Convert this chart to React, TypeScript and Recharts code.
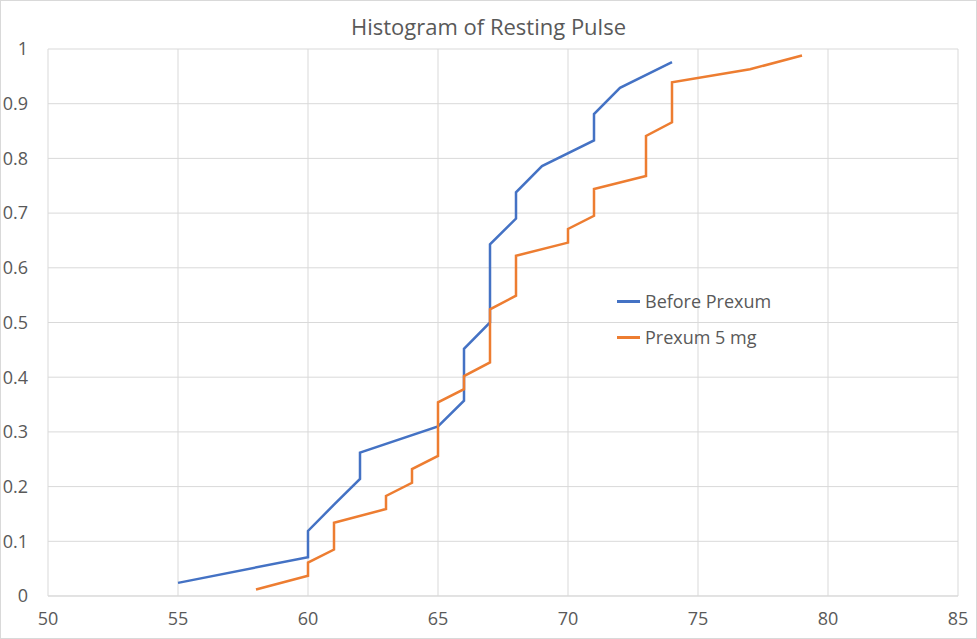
import React from 'react';
import { LineChart, Line, XAxis, YAxis, CartesianGrid, Legend } from 'recharts';

// sorted resting pulse readings and their cumulative fraction
const beforePulse = [55, 60, 60, 61, 62, 62, 65, 66, 66, 66, 67, 67, 67, 67, 68, 68, 69, 71, 71, 72, 74];
const beforeFraction = [
  0.024, 0.071, 0.119, 0.167, 0.214, 0.262, 0.31, 0.357, 0.405, 0.452, 0.5,
  0.548, 0.595, 0.643, 0.69, 0.738, 0.786, 0.833, 0.881, 0.929, 0.976,
];

const afterPulse = [
  58, 60, 60, 61, 61, 61, 63, 63, 64, 64, 65, 65, 65, 65, 65, 66, 66, 67, 67, 67, 67,
  67, 68, 68, 68, 68, 70, 70, 71, 71, 71, 73, 73, 73, 73, 74, 74, 74, 74, 77, 79,
];
const afterFraction = [
  0.012, 0.037, 0.061, 0.085, 0.11, 0.134, 0.159, 0.183, 0.207, 0.232, 0.256,
  0.28, 0.305, 0.329, 0.354, 0.378, 0.402, 0.427, 0.451, 0.476, 0.5, 0.524,
  0.549, 0.573, 0.598, 0.622, 0.646, 0.671, 0.695, 0.72, 0.744, 0.768, 0.793,
  0.817, 0.841, 0.866, 0.89, 0.915, 0.939, 0.963, 0.988,
];

const xTicks = [50, 55, 60, 65, 70, 75, 80, 85];
const yTicks = [0, 0.1, 0.2, 0.3, 0.4, 0.5, 0.6, 0.7, 0.8, 0.9, 1];

const seriesNames = ['Before Prexum', 'Prexum 5 mg'];
const seriesColors = ['#4472C4', '#ED7D31'];

const beforeData = beforePulse.map((x, i) => ({ x, y: beforeFraction[i] }));
const afterData = afterPulse.map((x, i) => ({ x, y: afterFraction[i] }));

const FONT = '"Open Sans", "Noto Sans", sans-serif';
const TEXT = '#595959';

const renderLegend = () => (
  <div style={{ fontFamily: FONT, fontSize: 18, color: TEXT }}>
    {seriesNames.map((name, i) => (
      <div key={name} style={{ display: 'flex', alignItems: 'center', height: 36 }}>
        <span style={{ display: 'inline-block', width: 23, height: 3, background: seriesColors[i], marginRight: 5 }} />
        <span>{name}</span>
      </div>
    ))}
  </div>
);

export default function App() {
  return (
    <div
      style={{
        position: 'absolute',
        top: 0,
        left: 0,
        width: 977,
        height: 639,
        boxSizing: 'border-box',
        border: '1px solid #d9d9d9',
        background: '#fff',
      }}
    >
      <div
        style={{
          position: 'absolute',
          top: 10,
          left: 0,
          width: '100%',
          textAlign: 'center',
          fontFamily: FONT,
          fontSize: 22,
          color: TEXT,
        }}
      >
        Histogram of Resting Pulse
      </div>
      <LineChart width={975} height={637} margin={{ top: 48, right: 18, bottom: 12, left: 7 }}>
        <CartesianGrid stroke="#d9d9d9" strokeWidth={1} />
        <XAxis
          dataKey="x"
          type="number"
          domain={[50, 85]}
          ticks={xTicks}
          allowDuplicatedCategory={false}
          axisLine={{ stroke: '#d9d9d9' }}
          tickLine={false}
          tickSize={0}
          tickMargin={16}
          height={30}
          tick={{ fill: TEXT, fontSize: 18, fontFamily: FONT }}
        />
        <YAxis
          type="number"
          domain={[0, 1]}
          ticks={yTicks}
          axisLine={false}
          tickLine={false}
          tickSize={0}
          tickMargin={20}
          width={40}
          tick={{ fill: TEXT, fontSize: 18, fontFamily: FONT }}
        />
        <Legend
          content={renderLegend}
          layout="vertical"
          align="center"
          verticalAlign="middle"
          wrapperStyle={{ position: 'absolute', left: 616, top: 282, width: 200 }}
        />
        <Line
          data={beforeData}
          dataKey="y"
          name={seriesNames[0]}
          stroke={seriesColors[0]}
          strokeWidth={2.5}
          dot={false}
          type="linear"
          isAnimationActive={false}
        />
        <Line
          data={afterData}
          dataKey="y"
          name={seriesNames[1]}
          stroke={seriesColors[1]}
          strokeWidth={2.5}
          dot={false}
          type="linear"
          isAnimationActive={false}
        />
      </LineChart>
    </div>
  );
}
